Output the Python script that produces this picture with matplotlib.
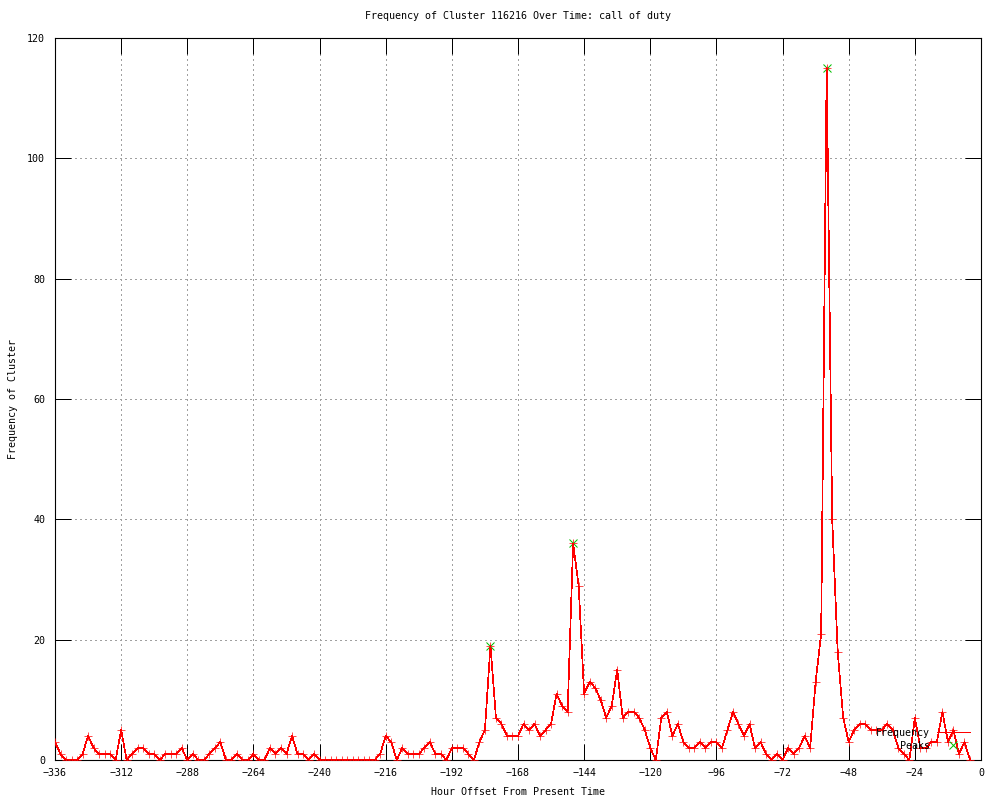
import numpy as np
import matplotlib
matplotlib.use("Agg")
import matplotlib.pyplot as plt

# hour offsets, one point every 2 hours
hours = np.arange(-336, -3, 2)

freq = [
    3, 1, 0, 0, 0, 1, 4, 2, 1, 1, 1, 0,      # -336 .. -314
    5, 0, 1, 2, 2, 1, 1, 0, 1, 1, 1, 2,      # -312 .. -290
    0, 1, 0, 0, 1, 2, 3, 0, 0, 1, 0, 0,      # -288 .. -266
    1, 0, 0, 2, 1, 2, 1, 4, 1, 1, 0, 1,      # -264 .. -242
    0, 0, 0, 0, 0, 0, 0, 0, 0, 0, 0, 1,      # -240 .. -218
    4, 3, 0, 2, 1, 1, 1, 2, 3, 1, 1, 0,      # -216 .. -194
    2, 2, 2, 1, 0, 3, 5, 19, 7, 6, 4, 4,     # -192 .. -170
    4, 6, 5, 6, 4, 5, 6, 11, 9, 8, 36, 29,   # -168 .. -146
    11, 13, 12, 10, 7, 9, 15, 7, 8, 8, 7, 5,  # -144 .. -122
    2, 0, 7, 8, 4, 6, 3, 2, 2, 3, 2, 3,      # -120 .. -98
    3, 2, 5, 8, 6, 4, 6, 2, 3, 1, 0, 1,      # -96 .. -74
    0, 2, 1, 2, 4, 2, 13, 21, 115, 40, 18, 7,  # -72 .. -50
    3, 5, 6, 6, 5, 5, 5, 6, 5, 2, 1, 0,      # -48 .. -26
    7, 2, 2, 3, 3, 8, 3, 5, 1, 3, 0,         # -24 .. -4
]

peak_hours = [-178, -148, -56]
peak_vals = [19, 36, 115]

x_ticks = np.arange(-336, 1, 24)
y_ticks = np.arange(0, 121, 20)

plt.rcParams['font.family'] = ['DejaVu Sans Mono']
plt.rcParams['font.size'] = 7.2

fig = plt.figure(figsize=(10, 8), dpi=100)
ax = fig.add_axes([0.055, 0.05, 0.926, 0.9025])

red = "#ff0000"
green = "#00c000"

ax.plot(peak_hours, peak_vals, linestyle="none", marker="x", color=green,
        markersize=5.5, markeredgewidth=0.72, antialiased=False, zorder=3)
ax.plot(hours, freq, color=red, linewidth=0.5, marker="+", markersize=5.2,
        markeredgewidth=0.5, antialiased=False, zorder=4)

ax.set_xlim(-336, 0)
ax.set_ylim(0, 120)
ax.set_xticks(x_ticks)
ax.set_yticks(y_ticks)
ax.tick_params(direction="in", length=11.5, width=0.72, top=True, right=True,
               labelsize=7.2, color="black")
ax.tick_params(axis="y", pad=7)
ax.tick_params(axis="x", pad=6)
for s in ax.spines.values():
    s.set_linewidth(0.8)
    s.set_color("black")

ax.grid(True, color="#a0a0a0", linestyle=(0, (2, 3)), linewidth=0.72, antialiased=False)
ax.set_axisbelow(True)

ax.set_title("Frequency of Cluster 116216 Over Time: call of duty", fontsize=7.2, pad=14)
ax.set_xlabel("Hour Offset From Present Time", fontsize=7.2)
ax.set_ylabel("Frequency of Cluster", fontsize=7.2)
ax.xaxis.set_label_coords(0.5, -0.044)
ax.xaxis.label.set_va("center")
ax.yaxis.set_label_coords(-0.0454, 0.5)
ax.yaxis.label.set_va("center")

# key, gnuplot style (text right aligned, sample to the right)
tr = ax.transAxes
ax.text(0.945, 0.0374, "Frequency", transform=tr, ha="right", va="center", fontsize=7.2, zorder=5)
ax.plot([0.9525, 0.988], [0.0388, 0.0388], transform=tr, color=red, linewidth=0.5,
        antialiased=False, clip_on=False, zorder=5)
ax.plot([0.9687], [0.0388], transform=tr, color=red, marker="+", markersize=5.2,
        markeredgewidth=0.5, antialiased=False, clip_on=False, zorder=5)
ax.text(0.945, 0.0194, "Peaks", transform=tr, ha="right", va="center", fontsize=7.2, zorder=5)
ax.plot([0.9697], [0.0208], transform=tr, color=green, marker="x", markersize=5.5,
        markeredgewidth=0.72, antialiased=False, clip_on=False, zorder=5)

fig.savefig("out.png", dpi=100)
